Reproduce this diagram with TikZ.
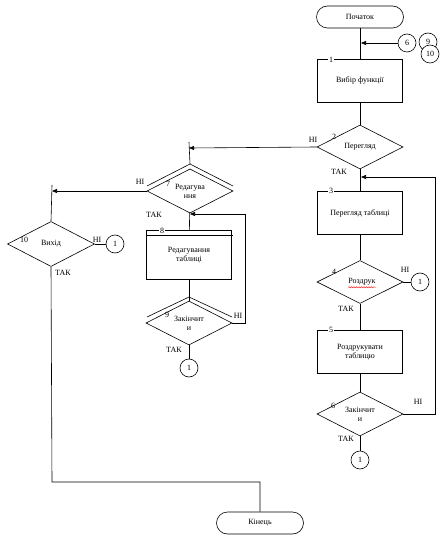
\documentclass[tikz,border=0pt]{standalone}
\usepackage{fontspec}
\setmainfont{Liberation Serif}
\usetikzlibrary{shapes.geometric,arrows.meta,decorations.pathmorphing}
\tikzset{
  every node/.style={font=\fontsize{8}{9}\selectfont},
  term/.style={draw,rounded corners=11pt,minimum width=87pt,minimum height=22pt,inner sep=0pt},
  proc/.style={draw,minimum width=85pt,minimum height=43pt,inner sep=0pt,align=center},
  dec/.style={draw,diamond,minimum width=86pt,minimum height=44pt,inner sep=0pt,align=center},
  conn/.style={draw,circle,minimum size=18pt,inner sep=0pt},
  num/.style={fill=white,inner sep=1pt},
  lab/.style={inner sep=0pt},
  arr/.style={-{Triangle[length=5pt,width=4pt]}}
}
\begin{document}
\begin{tikzpicture}[x=1pt,y=-1pt,line width=0.6pt]
\useasboundingbox (0,0) rectangle (447,545);
% right column
\node[term] (start) at (360,17) {Початок};
\node[proc] (b1) at (360,81) {Вибір функції};
\node[num] at (331,60) {1};
\node[dec] (d2) at (360,147) {Перегляд};
\node[lab] at (334,137) {2};
\node[proc] (b3) at (360,213) {Перегляд таблиці};
\node[num] at (331,191) {3};
\node[dec,minimum height=43pt] (d4) at (360,282) {\phantom{Роздрук}};
\node[lab] (t4) at (362,282) {Роздрук};
\draw[red,line width=0.4pt,decorate,decoration={snake,amplitude=0.6pt,segment length=2.5pt}] ([yshift=-1.5pt]t4.south west) -- ([yshift=-1.5pt]t4.south east);
\node[lab] at (334,272) {4};
\node[proc] (b5) at (360,352) {Роздрукувати\\таблицю};
\node[num] at (331,330) {5};
\node[dec,minimum height=42pt] (d6) at (360,414) {Закінчит\\и};
\node[lab] at (333,406) {6};
\node[conn] (c4) at (420,282) {1};
\node[conn] (c6b) at (360,460) {1};
\node[conn] (k6) at (407,43) {6};
\node[conn,fill=white] (k9) at (428,42) {9};
\node[conn,fill=white] (k10) at (430,54) {10};
\coordinate (j1) at (361,43);
\coordinate (j5) at (361,177);
\coordinate (r6) at (435,177);
% middle column
\coordinate (j2) at (189,148);
\coordinate (j2t) at (189,142);
\draw (147,186) -- (190,164) -- (233,186);
\node[dec,fill=white,minimum height=43pt] (d7) at (190,191) {Редагува\\ння};
\node[lab] at (168,184) {7};
\node[proc,minimum height=49pt] (b8) at (189,255) {Редагування\\таблиці};
\draw (b8.north west) ++(0,5) -- ++(87,0);
\node[num] at (162,231) {8};
\draw (147,317) -- (189,297) -- (232,317);
\node[dec,fill=white,minimum height=44pt] (d9) at (189,323) {Закінчит\\и};
\node[lab] at (167,315) {9};
\node[conn] (c9) at (189,368) {1};
\coordinate (j4) at (190,214);
\coordinate (r9) at (245,214);
% left column
\coordinate (j3) at (52,191);
\coordinate (j3t) at (52,185);
\node[dec,minimum width=87pt,minimum height=45pt] (d10) at (51,244) {Вихід};
\node[lab] at (24,240) {10};
\node[conn] (c10) at (115,244) {1};
\node[term] (end) at (260,523) {Кінець};
\coordinate (j6) at (52,482);
% connectors
\draw (start) -- (b1);
\draw[arr] (k6) -- (j1);
\draw (b1) -- (d2);
\draw[arr] (d2.west) -- (j2);
\draw (j2t) -- (190,164);
\draw (d2) -- (b3);
\draw (b3) -- (d4);
\draw (d4) -- (b5);
\draw (b5) -- (d6);
\draw (d6) -- (c6b);
\draw (d4.east) -- (c4);
\draw (d6.east) -- (d6.east -| r6) -- (r6);
\draw[arr] (r6) -- (j5);
\draw[arr] (d7.west) -- (j3);
\draw (j3t) -- (d10.north);
\draw (d10.east) -- (c10);
\draw (d10.south) -- (j6) -| (end.north);
\draw (d7) -- (b8);
\draw (b8) -- (d9);
\draw (d9) -- (c9);
\draw (d9.east) -- (d9.east -| r9) -- (r9);
\draw[arr] (r9) -- (j4);
% branch labels
\node[lab] at (313,140) {НІ};
\node[lab] at (339,172) {ТАК};
\node[lab] at (405,270) {НІ};
\node[lab] at (346,309) {ТАК};
\node[lab] at (418,402) {НІ};
\node[lab] at (346,439) {ТАК};
\node[lab] at (140,182) {НІ};
\node[lab] at (154,215) {ТАК};
\node[lab] at (238,316) {НІ};
\node[lab] at (174,350) {ТАК};
\node[lab] at (97,240) {НІ};
\node[lab] at (63,273) {ТАК};
\end{tikzpicture}
\end{document}
